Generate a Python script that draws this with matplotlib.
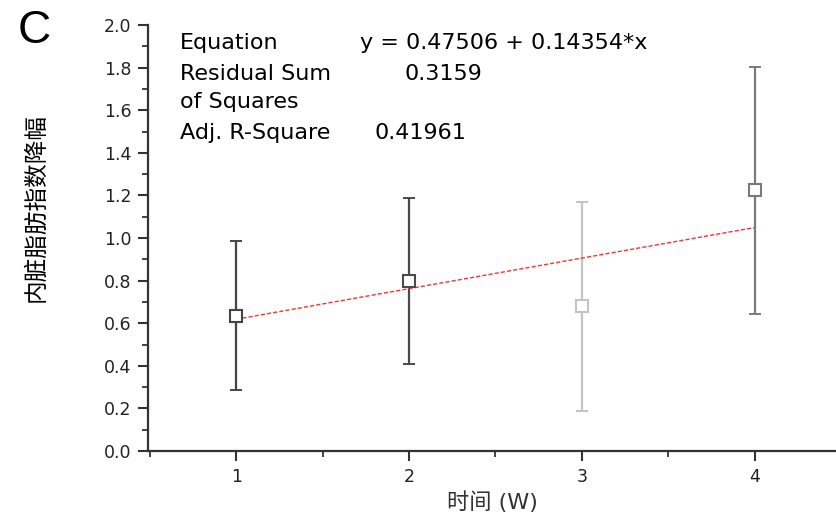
import matplotlib
matplotlib.use("Agg")
import matplotlib.pyplot as plt
from matplotlib.ticker import MultipleLocator

plt.rcParams['font.family'] = ['DejaVu Sans', 'Noto Sans CJK SC']

# data
weeks = [1, 2, 3, 4]
means = [0.635, 0.80, 0.68, 1.225]
errs = [0.35, 0.39, 0.49, 0.58]
bar_colors = ['#454545', '#4a4a4a', '#c4c4c4', '#7a7a7a']
fit_a, fit_b = 0.47506, 0.14354
fit_x = [1, 4]

fig = plt.figure(figsize=(8.36, 5.18), dpi=100)
ax = fig.add_axes([148 / 836, 1 - 451 / 518, 1 - 148 / 836, (451 - 25) / 518])

for x, m, e, c in zip(weeks, means, errs, bar_colors):
    ax.errorbar(x, m, yerr=e, fmt='none', ecolor=c, elinewidth=1.6,
                capsize=4, capthick=1.4, zorder=2)

fit_y = [fit_a + fit_b * x for x in fit_x]
ax.plot(fit_x, fit_y, color='#ff3030', lw=1.0, ls=(0, (3, 1.5)), zorder=3)

for x, m, c in zip(weeks, means, bar_colors):
    ax.plot(x, m, 's', ms=8, mfc='white', mec=c, mew=1.5, zorder=4)

ax.set_xlim(0.49, 4.47)
ax.set_ylim(0, 2.0)
ax.xaxis.set_major_locator(MultipleLocator(1))
ax.xaxis.set_minor_locator(MultipleLocator(0.5))
ax.yaxis.set_major_locator(MultipleLocator(0.2))
ax.yaxis.set_minor_locator(MultipleLocator(0.1))
ax.set_yticklabels([f"{v:.1f}" for v in ax.get_yticks()])
ax.spines['top'].set_visible(False)
ax.spines['right'].set_visible(False)
for s in ['left', 'bottom']:
    ax.spines[s].set_linewidth(1.6)
    ax.spines[s].set_color('#333333')
ax.tick_params(which='major', direction='out', length=7, width=1.5,
               labelsize=12.5, colors='#333333', labelcolor='#222222')
ax.tick_params(which='minor', direction='out', length=4, width=1.3, colors='#333333')
ax.tick_params(axis='x', pad=5)
ax.tick_params(axis='y', pad=5)

ax.set_xlabel("时间 (W)", fontsize=16, color='#333333', labelpad=4)
fig.text(36 / 836, 1 - 207 / 518, "内脏脂肪指数降幅", rotation=90, fontsize=17,
         ha='center', va='center', family=['Noto Sans CJK SC', 'DejaVu Sans'])

fig.text(34 / 836, 1 - 31 / 518, "C", fontsize=33, ha='center', va='center',
         family='Liberation Sans')

# fit results table
rows = [("Equation", "y = 0.47506 + 0.14354*x", 360, 43),
        ("Residual Sum", "0.3159", 405, 74),
        ("of Squares", "", 0, 102),
        ("Adj. R-Square", "0.41961", 375, 133)]
for left, right, rx, y in rows:
    fig.text(180 / 836, 1 - y / 518, left, fontsize=16, va='center', ha='left')
    if right:
        fig.text(rx / 836, 1 - y / 518, right, fontsize=16, va='center', ha='left')

fig.savefig("out.png", dpi=100)
